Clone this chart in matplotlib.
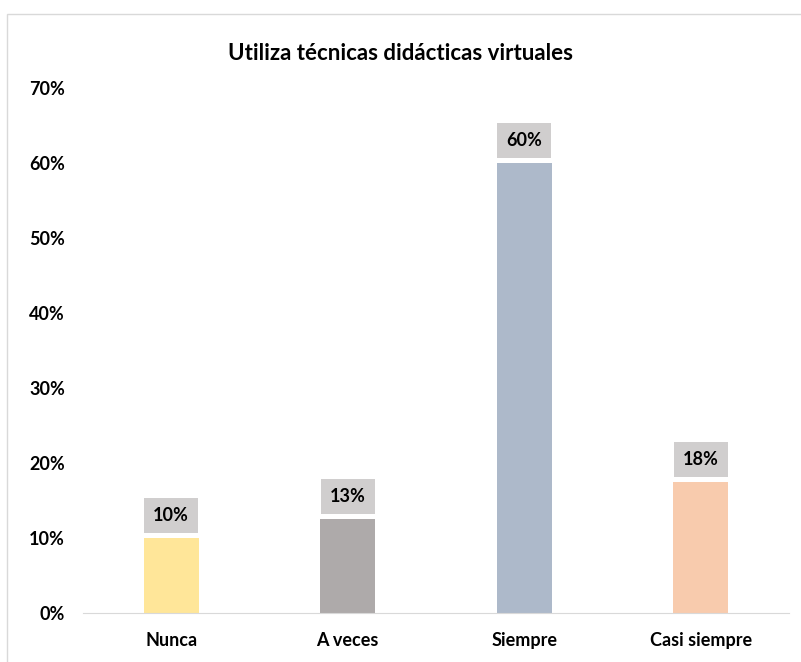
import matplotlib.pyplot as plt
from matplotlib.patches import Rectangle
from matplotlib.ticker import PercentFormatter

categories = ['Nunca', 'A veces', 'Siempre', 'Casi siempre']
values = [0.10, 0.125, 0.60, 0.175]
labels = ['10%', '13%', '60%', '18%']
colors = ['#FFE699', '#AEAAAA', '#ADB9CA', '#F8CBAD']

plt.rcParams['font.family'] = ['Lato', 'DejaVu Sans']

fig = plt.figure(figsize=(8.01, 6.62), dpi=100)
# chart frame
fig.patches.append(Rectangle((7 / 801, -0.01), 1.0, 1 - 14 / 662 + 0.01,
                             transform=fig.transFigure, fill=False,
                             edgecolor='#D9D9D9', linewidth=1.0))

ax = fig.add_axes([83 / 801, 1 - 613 / 662, (789 - 83) / 801, (613 - 88) / 662])
x = range(len(categories))
bars = ax.bar(x, values, width=0.31, color=colors)

for b, lab in zip(bars, labels):
    ax.annotate(lab, (b.get_x() + b.get_width() / 2, b.get_height()),
                xytext=(0, 10), textcoords='offset points',
                ha='center', va='bottom', fontsize=13, fontweight='bold',
                bbox=dict(boxstyle='square,pad=0.5', fc='#D0CECE', ec='none'))

ax.set_ylim(0, 0.7)
ax.set_xlim(-0.5, 3.5)
ax.set_yticks([0, 0.1, 0.2, 0.3, 0.4, 0.5, 0.6, 0.7])
ax.yaxis.set_major_formatter(PercentFormatter(1.0, decimals=0))
ax.set_xticks(list(x))
ax.set_xticklabels(categories)

for s in ['top', 'right', 'left']:
    ax.spines[s].set_visible(False)
ax.spines['bottom'].set_color('#D9D9D9')
ax.tick_params(axis='both', length=0, labelsize=13)
ax.tick_params(axis='y', pad=13)
ax.tick_params(axis='x', pad=14)
for t in ax.get_xticklabels() + ax.get_yticklabels():
    t.set_fontweight('bold')

fig.text(0.5, 1 - 53 / 662, 'Utiliza técnicas didácticas virtuales',
         ha='center', va='center', fontsize=16, fontweight='bold')

fig.savefig('out.png', dpi=100)
